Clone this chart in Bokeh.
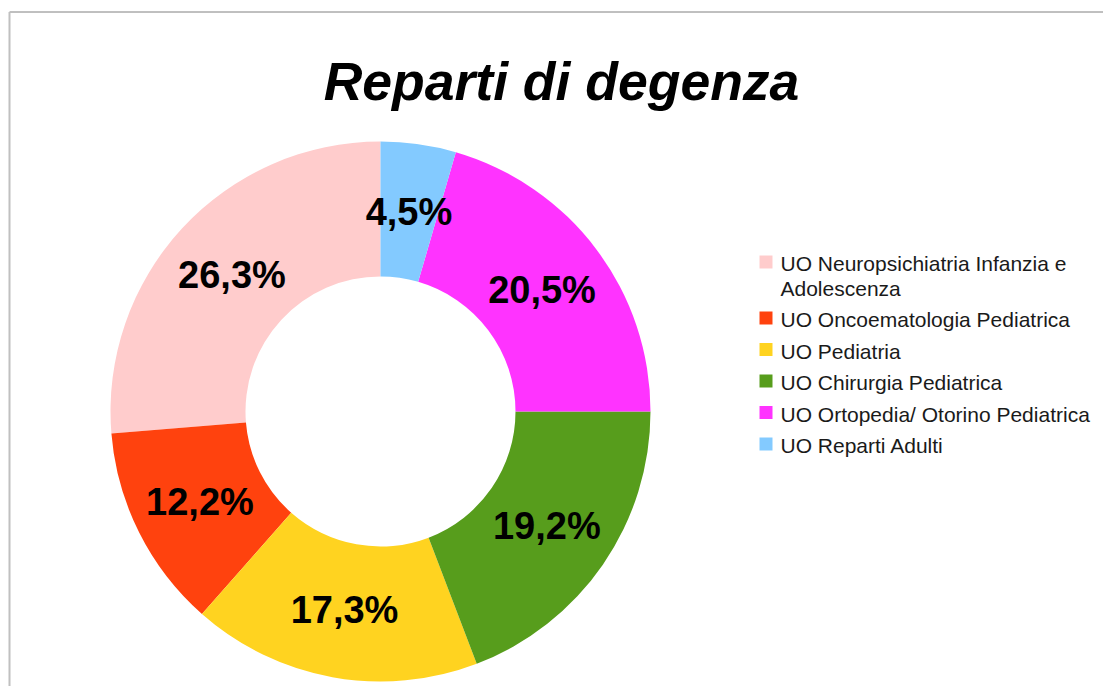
import math
from bokeh.plotting import figure
from bokeh.models import Range1d, ColumnDataSource
from bokeh.core.properties import value
from bokeh.embed import file_html
from bokeh.resources import INLINE

title_text = "Reparti di degenza"
categories = [
    "UO Neuropsichiatria Infanzia e Adolescenza",
    "UO Oncoematologia Pediatrica",
    "UO Pediatria",
    "UO Chirurgia Pediatrica",
    "UO Ortopedia/ Otorino Pediatrica",
    "UO Reparti Adulti",
]
legend_lines = [
    ["UO Neuropsichiatria Infanzia e", "Adolescenza"],
    ["UO Oncoematologia Pediatrica"],
    ["UO Pediatria"],
    ["UO Chirurgia Pediatrica"],
    ["UO Ortopedia/ Otorino Pediatrica"],
    ["UO Reparti Adulti"],
]
percentages = [26.3, 12.2, 17.3, 19.2, 20.5, 4.5]
colors = ["#ffcccc", "#ff420e", "#ffd320", "#579d1c", "#ff33ff", "#83caff"]

W, H = 1103, 686
FONT = "Liberation Sans"
OFF = 0


def px(x):
    return x - OFF


def py(y):
    return H - (y - OFF)


p = figure(width=W, height=H, x_range=Range1d(0, W), y_range=Range1d(0, H),
           output_backend="svg", toolbar_location=None, min_border=0,
           x_axis_location=None, y_axis_location=None, outline_line_color=None)
p.grid.visible = False
p.background_fill_color = "white"
p.border_fill_color = "white"

# frame lines
p.segment(x0=[px(9), px(9)], y0=[py(11.5), py(11.5)], x1=[px(1103), px(9)], y1=[py(11.5), py(690)],
          line_color=["#808080", "#c0c0c0"], line_width=[1, 2])

# donut
cx, cy = px(380), py(411)
total = sum(percentages)
starts, ends, lx, ly, labels = [], [], [], [], []
a = math.pi / 2
r_lab = 202
for v in percentages:
    span = v / total * 2 * math.pi
    starts.append(a)
    ends.append(a + span)
    mid = a + span / 2
    lx.append(cx + r_lab * math.cos(mid))
    ly.append(cy + r_lab * math.sin(mid))
    labels.append(f"{v:.1f}".replace(".", ",") + "%")
    a += span

src = ColumnDataSource(dict(start=starts, end=ends, color=colors))
p.annular_wedge(x=cx, y=cy, inner_radius=135, outer_radius=270, start_angle="start",
                end_angle="end", direction="anticlock", fill_color="color",
                line_color=None, source=src)

p.text(x=lx, y=ly, text=labels, text_font=value(FONT), text_font_size="38px",
       text_font_style="bold", text_align="center", text_baseline="middle",
       text_color="black")

# title
p.text(x=[px(561)], y=[py(81)], text=[title_text], text_font=value(FONT),
       text_font_size="53.5px", text_font_style="bold italic", text_align="center",
       text_baseline="middle", text_color="black")

# legend
sq_x, sq_y, tx, ty, tt = [], [], [], [], []
y = 262
for lines, c in zip(legend_lines, colors):
    sq_x.append(px(765.5))
    sq_y.append(py(y - 0.5))
    for j, line in enumerate(lines):
        tx.append(px(780))
        ty.append(py(y + 1 + 24.5 * j))
        tt.append(line)
    y += 31.5 + 24.5 * (len(lines) - 1)

p.rect(x=sq_x, y=sq_y, width=13, height=13, fill_color=colors, line_color=None)
p.text(x=tx, y=ty, text=tt, text_font=value(FONT), text_font_size="21px",
       text_align="left", text_baseline="middle", text_color="#1a1a1a")

open("out.html", "w").write(file_html(p, INLINE))
